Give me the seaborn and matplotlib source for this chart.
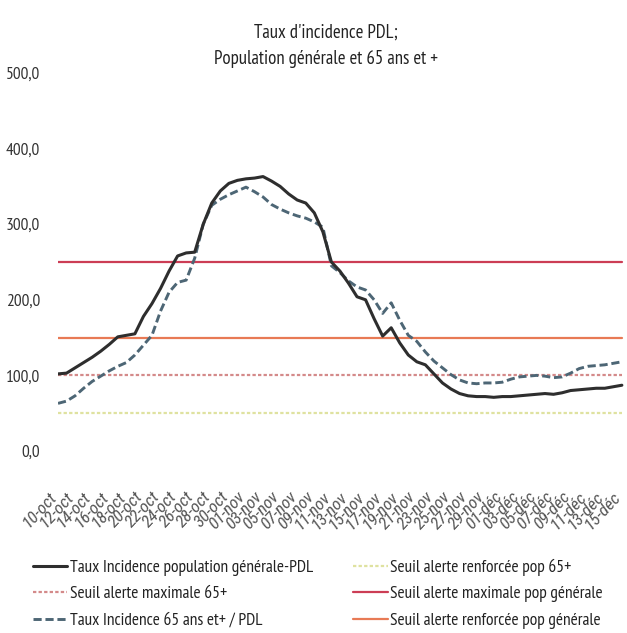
import pandas as pd
import numpy as np
import matplotlib
matplotlib.use("Agg")
import matplotlib.pyplot as plt
import seaborn as sns

# Données (taux d'incidence / 100 000 hab.)
jours = pd.date_range("2020-10-10", "2020-12-15", freq="D")
mois_fr = {10: "oct", 11: "nov", 12: "déc"}
etiquettes = [f"{d.day:02d}-{mois_fr[d.month]}" for d in jours]

taux_pop_generale = [
    102, 103, 110, 117, 124, 132, 141, 151, 153, 155,
    178, 195, 215, 238, 258, 262, 263, 300, 328, 344,
    354, 358, 360, 361, 363, 357, 350, 340, 332, 328,
    315, 290, 250, 238, 222, 204, 200, 175, 152, 163,
    143, 127, 118, 114, 102, 90, 82, 76, 73, 72,
    72, 71, 72, 72, 73, 74, 75, 76, 75, 77,
    80, 81, 82, 83, 83, 85, 87,
]
taux_65_plus = [
    63, 66, 73, 83, 92, 99, 106, 112, 117, 127,
    140, 153, 185, 210, 223, 226, 255, 300, 325, 333,
    339, 344, 349, 343, 336, 326, 320, 315, 311, 308,
    303, 296, 245, 236, 225, 217, 213, 200, 182, 196,
    173, 153, 145, 131, 119, 110, 101, 94, 90, 89,
    90, 90, 91, 95, 98, 99, 100, 99, 97, 98,
    103, 109, 112, 113, 114, 116, 118,
]

seuil_max_65 = 100
seuil_renf_65 = 50
seuil_max_gen = 250
seuil_renf_gen = 150

n = len(jours)
df = pd.DataFrame({
    "jour": np.arange(n),
    "Taux Incidence population générale-PDL": taux_pop_generale,
    "Seuil alerte maximale 65+": [seuil_max_65] * n,
    "Taux Incidence 65 ans et+ / PDL": taux_65_plus,
    "Seuil alerte renforcée pop 65+": [seuil_renf_65] * n,
    "Seuil alerte maximale pop générale": [seuil_max_gen] * n,
    "Seuil alerte renforcée pop générale": [seuil_renf_gen] * n,
})

styles = {
    "Taux Incidence population générale-PDL": dict(color="#2e2e2e", lw=2.2, ls="-"),
    "Seuil alerte maximale 65+": dict(color="#d48a8a", lw=1.6, ls=(0, (1.5, 1))),
    "Taux Incidence 65 ans et+ / PDL": dict(color="#4d6675", lw=2.1, ls=(0, (2.8, 1.3))),
    "Seuil alerte renforcée pop 65+": dict(color="#dfe2a0", lw=1.6, ls=(0, (1.5, 1))),
    "Seuil alerte maximale pop générale": dict(color="#cc3d55", lw=1.6, ls="-"),
    "Seuil alerte renforcée pop générale": dict(color="#e87a55", lw=1.6, ls="-"),
}

sns.set_style("white")
plt.rcParams["font.family"] = ["PT Sans Narrow", "Carlito", "DejaVu Sans"]

fig = plt.figure(figsize=(6.27, 6.33), dpi=100)
ax = fig.add_axes([58 / 627, 1 - 451 / 633, 1 - 58 / 627, (451 - 73) / 633])

# ordre de tracé : seuils en dessous, courbes au-dessus
ordre_trace = [
    "Seuil alerte renforcée pop 65+",
    "Seuil alerte maximale 65+",
    "Seuil alerte renforcée pop générale",
    "Seuil alerte maximale pop générale",
    "Taux Incidence 65 ans et+ / PDL",
    "Taux Incidence population générale-PDL",
]
handles = {}
for col in ordre_trace:
    st = styles[col]
    sns.lineplot(data=df, x="jour", y=col, ax=ax, color=st["color"],
                 linewidth=st["lw"], linestyle=st["ls"], label=col)
    handles[col] = ax.get_lines()[-1]
ax.get_legend().remove()

ax.set_xlim(0, n - 0.4)
ax.set_ylim(0, 500)
ax.set_yticks(np.arange(0, 501, 100))
ax.set_yticklabels([f"{v},0" for v in range(0, 501, 100)], fontsize=12.5, color="#333333")
ax.set_xticks(np.arange(0, n, 2))
ax.set_xticklabels(etiquettes[::2], rotation=47, ha="right", va="baseline",
                   rotation_mode="anchor", fontsize=12.5, color="#555555",
                   family=["Roboto Condensed", "Carlito", "DejaVu Sans"], style="italic")
ax.tick_params(axis="y", length=0, pad=13)
ax.tick_params(axis="x", length=0, pad=33)
ax.set_xlabel("")
ax.set_ylabel("")
for s in ax.spines.values():
    s.set_visible(False)

fig.text(0.52, 1 - 24 / 633, "Taux d'incidence PDL;\nPopulation générale et 65 ans et +",
         ha="center", va="top", fontsize=13.5, color="#222222", linespacing=1.6)

ordre_legende = [
    "Taux Incidence population générale-PDL",
    "Seuil alerte maximale 65+",
    "Taux Incidence 65 ans et+ / PDL",
    "Seuil alerte renforcée pop 65+",
    "Seuil alerte maximale pop générale",
    "Seuil alerte renforcée pop générale",
]
fig.legend([handles[c] for c in ordre_legende], ordre_legende, ncol=2,
           loc="upper left", bbox_to_anchor=(17 / 627, 1 - 543 / 633),
           frameon=False, fontsize=12.5, handlelength=2.0, handletextpad=0.15,
           columnspacing=2.3, labelspacing=0.6, labelcolor="#222222")

fig.savefig("out.png", dpi=100)
